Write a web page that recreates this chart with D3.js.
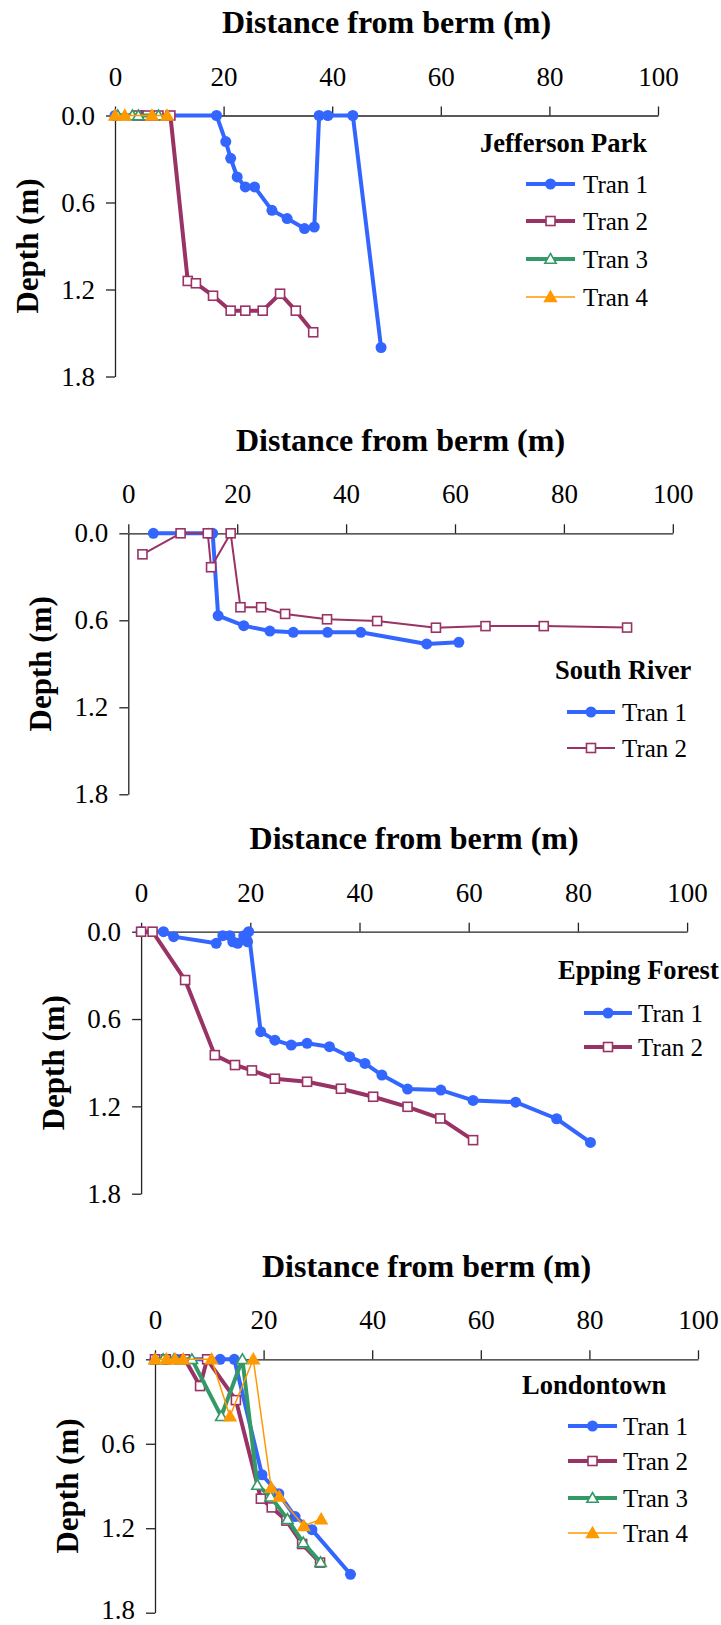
<!DOCTYPE html>
<html>
<head>
<meta charset="utf-8">
<script src="https://cdn.jsdelivr.net/npm/d3@7"></script>
<style>
body { margin: 0; background: #fff; }
</style>
</head>
<body>
<svg id="chart" width="721" height="1625"></svg>
<script>
const xTicks = [0, 20, 40, 60, 80, 100]
const yTicks = [0, 0.6, 1.2, 1.8]
const seriesNames = ["Tran 1", "Tran 2", "Tran 3", "Tran 4"]
const siteNames = ["Jefferson Park", "South River", "Epping Forest", "Londontown"]

// [distance from berm (m), depth (m)]
const jeffersonTran1 = [[0, 0], [5, 0], [18.7, 0], [20.4, 0.18], [21.3, 0.295], [22.5, 0.424], [24.0, 0.493], [25.7, 0.493],
    [28.9, 0.654], [31.7, 0.711], [34.9, 0.78], [36.7, 0.769], [37.6, 0], [39.2, 0], [43.8, 0], [49.0, 1.6]]
const jeffersonTran2 = [[4, 0], [6, 0], [8, 0], [10.2, 0], [13.4, 1.141], [14.9, 1.157], [18.05, 1.243], [21.3, 1.346],
    [24.0, 1.346], [27.2, 1.346], [30.4, 1.229], [33.3, 1.346], [36.5, 1.495]]
const jeffersonTran3 = [[0.5, 0], [3.2, 0], [4.3, 0], [8, 0]]
const jeffersonTran4 = [[0, 0], [1.8, 0], [6.8, 0], [9.6, 0]]

const southTran1 = [[4.6, 0], [14.7, 0], [15.5, 0], [16.5, 0.568], [21.2, 0.637], [26.0, 0.674], [30.3, 0.683],
    [36.6, 0.683], [42.7, 0.683], [54.8, 0.763], [60.7, 0.752]]
const southTran2 = [[2.6, 0.145], [9.6, 0], [14.6, 0], [15.2, 0.234], [18.8, 0], [20.6, 0.51], [24.4, 0.51], [28.8, 0.556],
    [36.5, 0.593], [45.7, 0.605], [56.5, 0.651], [65.6, 0.64], [76.3, 0.64], [91.6, 0.65]]

const eppingTran1 = [[0, 0], [4.1, 0], [5.96, 0.034], [13.75, 0.08], [14.97, 0.027], [16.26, 0.027], [16.8, 0.069],
    [17.7, 0.08], [18.8, 0.027], [19.5, 0.069], [19.7, 0], [21.9, 0.687], [24.5, 0.745], [27.5, 0.779], [30.4, 0.767],
    [34.5, 0.79], [38.2, 0.859], [41.0, 0.905], [44.1, 0.985], [48.8, 1.081], [54.9, 1.088], [60.8, 1.159],
    [68.6, 1.171], [76.1, 1.285], [82.3, 1.448]]
const eppingTran2 = [[0, 0], [2.1, 0], [8.06, 0.332], [13.5, 0.848], [17.2, 0.916], [20.3, 0.953], [24.5, 1.01],
    [30.4, 1.031], [36.6, 1.079], [42.5, 1.134], [48.8, 1.203], [54.8, 1.283], [60.8, 1.432]]

const londonTran1 = [[0, 0], [2, 0], [4, 0], [12, 0], [14.6, 0], [19.7, 0.82], [22.8, 0.955], [25.8, 1.117],
    [28.9, 1.21], [36.0, 1.527]]
const londonTran2 = [[0, 0], [2, 0], [5.5, 0], [8.3, 0.19], [9.6, 0], [14.9, 0.29], [19.5, 0.99], [21.5, 1.052],
    [24.2, 1.146], [27.1, 1.312], [30.4, 1.444]]
const londonTran3 = [[0, 0], [1.5, 0], [3.5, 0], [6.8, 0], [12.2, 0.405], [16.1, 0], [18.85, 0.893], [21.3, 0.976],
    [24.4, 1.136], [27.3, 1.302], [30.5, 1.442]]
const londonTran4 = [[0, 0], [2.1, 0], [3.7, 0], [5.2, 0], [10.4, 0], [13.8, 0.405], [18.1, 0], [21.4, 0.913],
    [22.9, 0.976], [27.4, 1.184], [30.6, 1.136]]

const colors = ["#3366FF", "#993366", "#339966", "#FF9900"]
const serif = "'Liberation Serif', 'Times New Roman', serif"

const panels = [
    {site: 0, series: [jeffersonTran1, jeffersonTran2, jeffersonTran3, jeffersonTran4], widths: [4, 4, 4, 1.5],
        left: 115, top: 115.5, width: 543, height: 261,
        legend: {titleX: 480, titleY: 142.7, lineX: [526, 575], textX: 583, rows: [184, 221, 259, 297]}},
    {site: 1, series: [southTran1, southTran2], widths: [4, 2],
        left: 128.3, top: 533.3, width: 544.5, height: 261,
        legend: {titleX: 555, titleY: 670, lineX: [567, 615], textX: 622, rows: [712, 748]}},
    {site: 2, series: [eppingTran1, eppingTran2], widths: [4, 4],
        left: 141.1, top: 931.7, width: 546, height: 262,
        legend: {titleX: 558, titleY: 970, lineX: [584, 632], textX: 638, rows: [1013, 1047]}},
    {site: 3, series: [londonTran1, londonTran2, londonTran3, londonTran4], widths: [4, 4, 4, 1.5],
        left: 155, top: 1359.3, width: 543, height: 253.4,
        legend: {titleX: 522, titleY: 1385, lineX: [568, 617], textX: 623, rows: [1426, 1461, 1498, 1533]}}
]

const svg = d3.select("#chart").style("font-family", serif)

function marker(g, i, cx, cy) {
    if (i === 0) {
        g.append("circle").attr("cx", cx).attr("cy", cy).attr("r", 5.5).attr("fill", colors[0])
    } else if (i === 1) {
        g.append("rect").attr("x", cx - 4.5).attr("y", cy - 4.5).attr("width", 9).attr("height", 9)
            .attr("fill", "#fff").attr("stroke", colors[1]).attr("stroke-width", 1.6)
    } else if (i === 2) {
        g.append("path").attr("transform", "translate(" + cx + "," + (cy + 1) + ")")
            .attr("d", d3.symbol(d3.symbolTriangle, 55)())
            .attr("fill", "#fff").attr("stroke", colors[2]).attr("stroke-width", 1.6)
    } else {
        g.append("path").attr("transform", "translate(" + cx + "," + (cy + 1) + ")")
            .attr("d", d3.symbol(d3.symbolTriangle, 90)())
            .attr("fill", colors[3])
    }
}

panels.forEach(p => {
    const g = svg.append("g")
    const x = d3.scaleLinear().domain([0, 100]).range([p.left, p.left + p.width])
    const y = d3.scaleLinear().domain([0, 1.8]).range([p.top, p.top + p.height])

    // title
    g.append("text")
        .attr("x", p.left + p.width / 2)
        .attr("y", p.top - 82.5)
        .attr("text-anchor", "middle")
        .style("font-family", serif)
        .style("font-size", "32px")
        .style("font-weight", "bold")
        .text("Distance from berm (m)")

    // axes
    const xAxis = g.append("g")
        .attr("transform", "translate(0," + p.top + ")")
        .call(d3.axisTop(x).tickValues(xTicks).tickSize(9).tickSizeOuter(0).tickPadding(21))
    const yAxis = g.append("g")
        .attr("transform", "translate(" + p.left + ",0)")
        .call(d3.axisLeft(y).tickValues(yTicks).tickFormat(d3.format(".1f")).tickSize(9).tickSizeOuter(0).tickPadding(11))
    ;[xAxis, yAxis].forEach(a => {
        a.attr("font-family", null).attr("font-size", null)
        a.selectAll("path, line").attr("stroke", "#222").attr("stroke-width", 1.3)
        a.selectAll("text")
            .style("font-family", serif)
            .style("font-size", "27px")
            .attr("fill", "#000")
    })
    // keep the bottom label inside the page
    yAxis.selectAll(".tick text")
        .filter(d => y(d) + 16 > 1625)
        .attr("dy", "0.2em")

    g.append("text")
        .attr("transform", "translate(" + (p.left - 88) + "," + (p.top + p.height / 2) + ") rotate(-90)")
        .attr("text-anchor", "middle")
        .attr("dy", "0.35em")
        .style("font-family", serif)
        .style("font-size", "31px")
        .style("font-weight", "bold")
        .text("Depth (m)")

    // series
    const line = d3.line().x(d => x(d[0])).y(d => y(d[1]))
    p.series.forEach((data, i) => {
        const s = g.append("g")
        s.append("path")
            .datum(data)
            .attr("d", line)
            .attr("fill", "none")
            .attr("stroke", colors[i])
            .attr("stroke-width", p.widths[i])
            .attr("stroke-linejoin", "round")
        data.forEach(d => marker(s, i, x(d[0]), y(d[1])))
    })

    // legend
    const lg = p.legend
    g.append("text")
        .attr("x", lg.titleX)
        .attr("y", lg.titleY)
        .attr("dy", "0.35em")
        .style("font-family", serif)
        .style("font-size", "26.5px")
        .style("font-weight", "bold")
        .text(siteNames[p.site])
    p.series.forEach((data, i) => {
        const ry = lg.rows[i]
        const l = g.append("g")
        l.append("line")
            .attr("x1", lg.lineX[0]).attr("x2", lg.lineX[1])
            .attr("y1", ry).attr("y2", ry)
            .attr("stroke", colors[i])
            .attr("stroke-width", p.widths[i])
        marker(l, i, (lg.lineX[0] + lg.lineX[1]) / 2, ry)
        l.append("text")
            .attr("x", lg.textX)
            .attr("y", ry)
            .attr("dy", "0.35em")
            .style("font-family", serif)
            .style("font-size", "25px")
            .text(seriesNames[i])
    })
})
</script>
</body>
</html>
